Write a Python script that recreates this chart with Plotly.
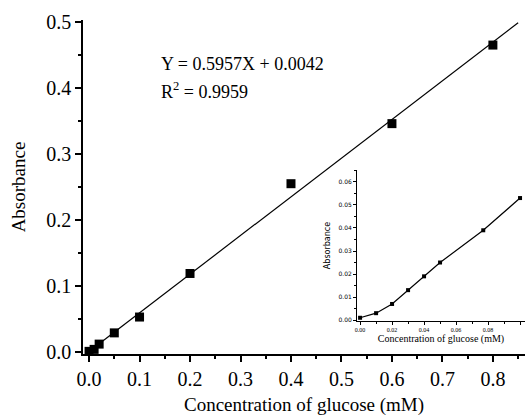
import numpy as np
import plotly.graph_objects as go

# Main calibration data
conc = [0.0, 0.01, 0.02, 0.05, 0.1, 0.2, 0.4, 0.6, 0.8]
absorb = [0.001, 0.004, 0.012, 0.029, 0.053, 0.119, 0.255, 0.346, 0.465]

# Inset low-range data
inset_conc = [0.0, 0.01, 0.02, 0.03, 0.04, 0.05, 0.077, 0.1]
inset_abs = [0.001, 0.003, 0.007, 0.013, 0.019, 0.025, 0.039, 0.053]

main_ticks = [0.0, 0.1, 0.2, 0.3, 0.4, 0.5, 0.6, 0.7, 0.8]
equation_text = "Y = 0.5957X + 0.0042"
r2_text = "R<sup>2</sup> = 0.9959"

# fitted line through the data
slope, intercept = np.polyfit(conc, absorb, 1)
fit_x = np.array([0.0, 0.85])
fit_y = slope * fit_x + intercept

serif = "Liberation Serif, Times New Roman, serif"

fig = go.Figure()
fig.add_trace(go.Scatter(x=fit_x, y=fit_y, mode="lines",
                         line=dict(color="black", width=1.2), showlegend=False,
                         xaxis="x", yaxis="y", cliponaxis=True))
fig.add_trace(go.Scatter(x=conc, y=absorb, mode="markers",
                         marker=dict(symbol="square", size=9, color="black"),
                         showlegend=False, xaxis="x", yaxis="y"))
fig.add_trace(go.Scatter(x=inset_conc, y=inset_abs, mode="lines+markers",
                         line=dict(color="black", width=1.2),
                         marker=dict(symbol="square", size=4, color="black"),
                         showlegend=False, xaxis="x2", yaxis="y2"))

axis_common = dict(showline=True, linecolor="black", linewidth=1.5,
                   showgrid=False, zeroline=False, ticks="outside",
                   tickcolor="black", tickwidth=1.5, automargin=False)

fig.update_layout(
    width=525, height=416,
    margin=dict(l=83, r=0, t=20, b=62),
    plot_bgcolor="white", paper_bgcolor="white",
    font=dict(family=serif, color="black"),
    xaxis=dict(**axis_common, range=[-0.012, 0.8636], tickvals=main_ticks,
               ticktext=[f"{v:.1f}" for v in main_ticks], ticklen=6,
               minor=dict(dtick=0.05, tick0=0, ticks="outside", ticklen=3,
                          tickcolor="black", tickwidth=1.5),
               tickfont=dict(size=20, family=serif),
               title=dict(text="Concentration of glucose (mM)",
                          font=dict(size=19, family=serif), standoff=14),
               domain=[0, 1]),
    yaxis=dict(**axis_common, range=[-0.003, 0.503], dtick=0.1, tick0=0,
               tickformat=".1f", ticklen=6,
               minor=dict(dtick=0.05, tick0=0, ticks="outside", ticklen=3,
                          tickcolor="black", tickwidth=1.5),
               tickfont=dict(size=20, family=serif),
               title=dict(text="Absorbance", font=dict(size=19, family=serif),
                          standoff=16),
               domain=[0, 1]),
    xaxis2=dict(**{**axis_common, "linewidth": 1, "tickwidth": 1},
                anchor="y2", domain=[0.620, 1.0], range=[-0.0019, 0.1031],
                dtick=0.02, tick0=0, tickformat=".2f", ticklen=3,
                minor=dict(dtick=0.01, tick0=0, ticks="outside", ticklen=2,
                           tickcolor="black", tickwidth=1),
                tickfont=dict(size=6, family=serif),
                title=dict(text="Concentration of glucose (mM)",
                           font=dict(size=10, family=serif), standoff=1)),
    yaxis2=dict(**{**axis_common, "linewidth": 1, "tickwidth": 1},
                anchor="x2", domain=[0.0988, 0.551], range=[-0.0004, 0.0652],
                dtick=0.01, tick0=0, tickformat=".2f", ticklen=3,
                minor=dict(dtick=0.005, tick0=0, ticks="outside", ticklen=2,
                           tickcolor="black", tickwidth=1),
                tickfont=dict(size=6, family="DejaVu Sans"),
                title=dict(text="Absorbance", font=dict(size=8, family="DejaVu Sans"),
                           standoff=6)),
    annotations=[
        dict(text=equation_text, x=159, y=64, xref="paper", yref="paper",
             showarrow=False, xanchor="left", yanchor="middle",
             font=dict(size=18, family=serif)),
        dict(text=r2_text, x=159, y=91, xref="paper", yref="paper",
             showarrow=False, xanchor="left", yanchor="middle",
             font=dict(size=18, family=serif)),
    ],
)

# convert pixel positions for annotations to paper coords
plot_l, plot_t, plot_w, plot_h = 83, 20, 442, 334
for ann in fig.layout.annotations:
    ann.x = (ann.x - plot_l) / plot_w
    ann.y = 1 - (ann.y - plot_t) / plot_h

fig.write_html("out.html",
               config={"displayModeBar": False},
               post_script="document.body.style.margin='0';document.body.style.overflow='hidden';")
